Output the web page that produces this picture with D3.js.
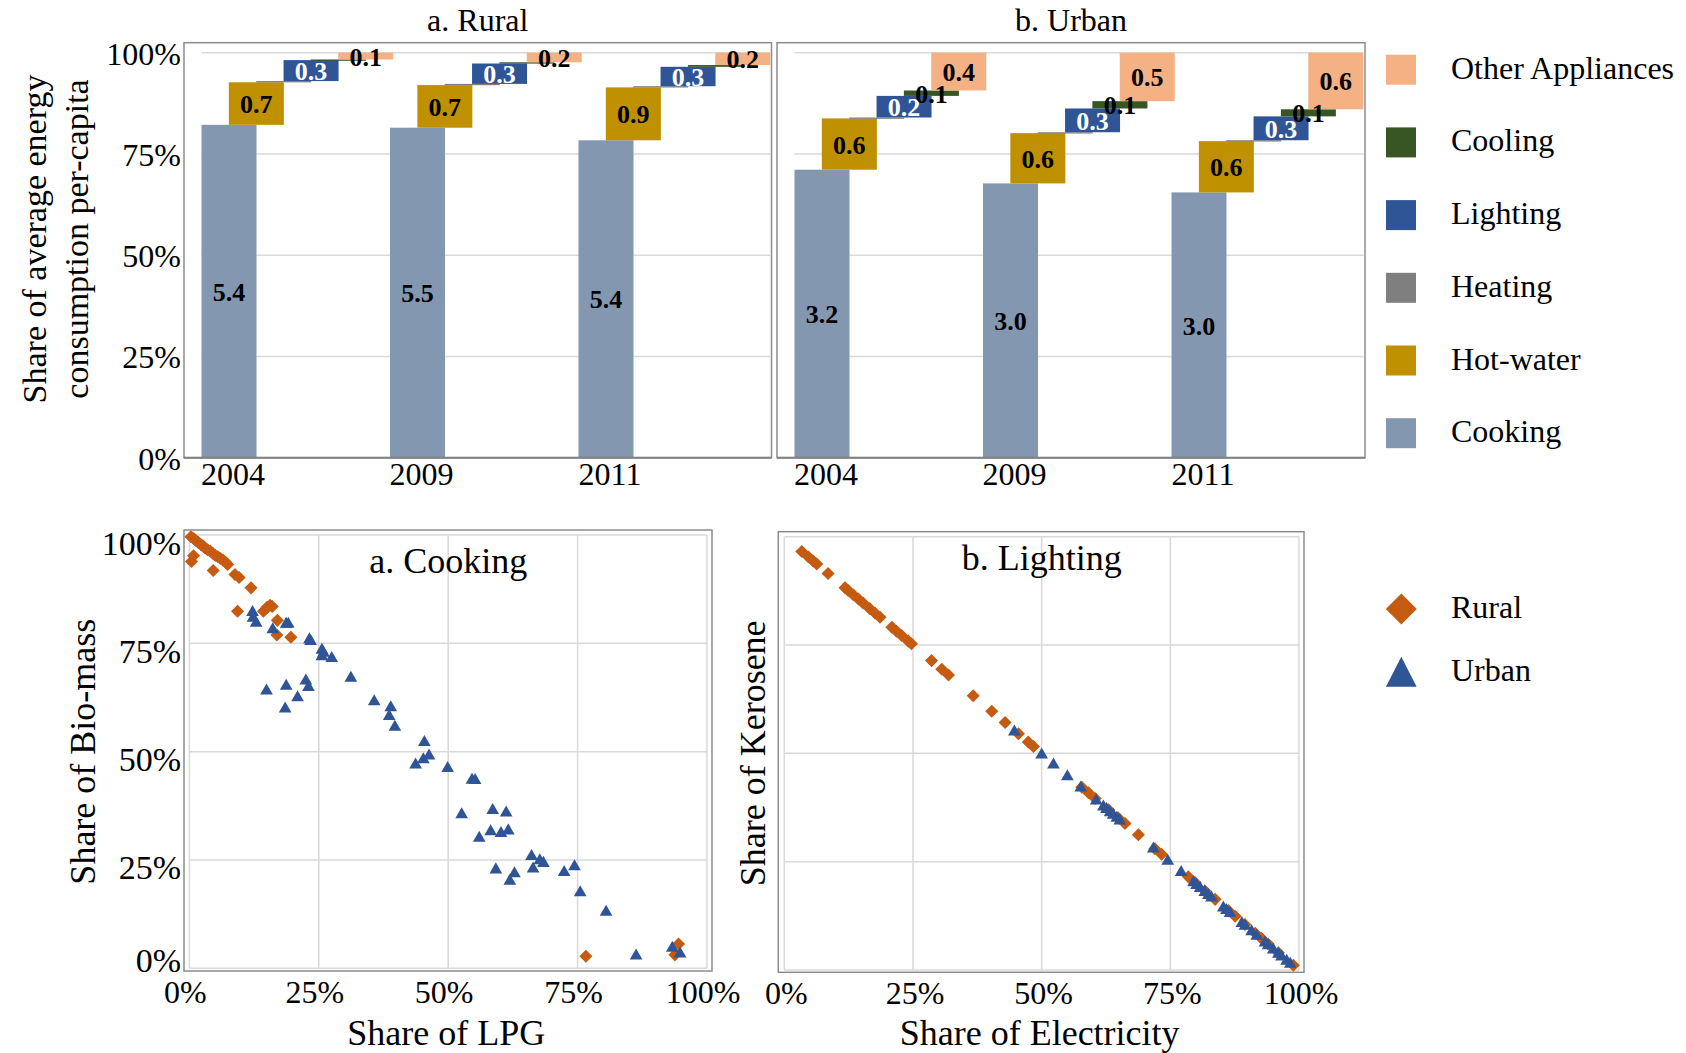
<!DOCTYPE html>
<html><head><meta charset="utf-8">
<script src="https://cdn.jsdelivr.net/npm/d3@7"></script>
<style>
body{margin:0;background:#fff;}
text{font-family:"Liberation Serif","Times New Roman",serif;fill:#000;}
</style></head><body>
<svg id="chart" width="1686" height="1053"></svg>
<script>
// ---------- data: end-use energy per capita ----------
const years = ["2004", "2009", "2011"];
const categories = ["Cooking", "Hot-water", "Heating", "Lighting", "Cooling", "Other Appliances"];
const catColors = ["#8497B0", "#BF9000", "#7F7F7F", "#2F5597", "#375623", "#F4B183"];
const legendOrder = ["Other Appliances", "Cooling", "Lighting", "Heating", "Hot-water", "Cooking"];

const ruralCooking  = [5.40, 5.50, 5.40];
const ruralHotWater = [0.69, 0.71, 0.90];
const ruralHeating  = [0.02, 0.02, 0.02];
const ruralLighting = [0.34, 0.34, 0.33];
const ruralCooling  = [0.01, 0.02, 0.03];
const ruralOther    = [0.11, 0.16, 0.21];

const urbanCooking  = [3.20, 3.00, 3.00];
const urbanHotWater = [0.57, 0.55, 0.58];
const urbanHeating  = [0.01, 0.01, 0.01];
const urbanLighting = [0.24, 0.26, 0.27];
const urbanCooling  = [0.06, 0.08, 0.08];
const urbanOther    = [0.42, 0.53, 0.64];

const shareTicks = [0, 0.25, 0.5, 0.75, 1];
const pctTicks = [0, 25, 50, 75, 100];

// ---------- data: fuel shares (%) ----------
const cookRuralLPG = [0.3,0.8,1.2,1.7,2.2,2.6,3.0,3.5,4.0,4.5,5.0,5.5,6.0,6.5,7.0,7.4,0.4,0.8,4.6,8.8,9.6,11.9,9.3,14.3,15.0,15.6,16.0,17.0,16.9,19.6,76.6,94.5,93.8];
const cookRuralBio = [99.6,99.2,98.8,98.3,97.8,97.5,97.0,96.6,96.3,95.8,95.3,95.0,94.6,94.2,93.7,93.2,93.9,95.2,91.8,90.9,90.2,87.8,82.4,82.4,83.3,83.8,83.5,80.3,76.9,76.4,2.8,5.6,3.1];
const cookUrbanLPG = [12.2,12.3,12.9,16.1,18.7,19.1,23.2,23.4,25.6,25.6,25.9,27.5,31.2,14.9,18.7,20.9,22.5,23.0,18.5,35.7,38.9,38.6,39.7,45.4,43.7,45.2,46.3,49.9,54.6,55.2,52.6,58.6,61.2,58.2,60.2,61.6,56.0,66.1,67.7,68.4,66.4,74.4,72.4,59.2,62.8,61.9,75.5,80.5,86.3,93.3,94.8];
const cookUrbanBio = [82.5,81.2,80.0,78.5,79.8,79.8,76.2,75.8,73.8,72.3,73.1,71.9,67.3,64.4,65.5,62.8,66.7,65.2,60.2,61.9,60.5,58.5,56.0,52.5,47.3,48.5,49.4,46.5,43.8,43.7,35.8,36.8,36.2,31.9,31.5,32.1,30.4,26.2,25.2,24.6,23.3,23.8,22.5,23.1,22.2,20.5,17.8,13.3,3.2,5.0,3.7];

const lightRuralElec = [3.4,4.7,5.6,6.3,8.5,11.8,12.4,13.4,14.4,15.3,16.6,17.6,18.6,20.9,21.8,22.8,24.1,24.7,28.6,30.6,31.9,36.7,40.3,42.9,45.5,47.4,48.4,57.8,59.1,60.4,63.0,64.9,66.2,68.8,72.0,73.3,78.5,79.8,81.7,83.7,86.3,87.6,89.5,91.5,92.7,94.0,96.0,98.9];
const lightRuralKero = [96.6,95.3,94.4,93.7,91.5,88.2,87.6,86.6,85.6,84.7,83.4,82.4,81.4,79.1,78.2,77.2,75.9,75.3,71.4,69.4,68.1,63.3,59.7,57.1,54.5,52.6,51.6,42.2,40.9,39.6,37.0,35.1,33.8,31.2,28.0,26.7,21.5,20.2,18.3,16.3,13.7,12.4,10.5,8.5,7.3,6.0,4.0,1.1];
const lightUrbanElec = [44.7,50.0,52.3,55.0,57.6,60.6,62.0,62.6,63.3,63.9,64.6,65.2,71.7,74.5,77.1,79.5,80.1,80.8,81.7,82.4,83.0,85.3,85.9,86.6,88.9,89.5,90.8,91.8,93.4,94.0,95.0,96.0,96.6,97.6,98.3];
const lightUrbanKero = [55.3,50.0,47.7,45.0,42.4,39.4,38.0,37.4,36.7,36.1,35.4,34.8,28.3,25.5,22.9,20.5,19.9,19.2,18.3,17.6,17.0,14.7,14.1,13.4,11.1,10.5,9.2,8.2,6.6,6.0,5.0,4.0,3.4,2.4,1.7];

const groupNames = ["Rural", "Urban"];
const groupColors = ["#C55A11", "#2F5597"];

// ---------- drawing ----------
const svg = d3.select("#chart");
const colorOf = d3.scaleOrdinal().domain(categories).range(catColors);
const fmt = d3.format(".1f");
const pctFmt = d => d + "%";
const pctShare = d3.format(".0%");

// --- top: stacked waterfall panels ---
const topY = d3.scaleLinear().domain([0, 1]).range([457.7, 52.7]);
const barW = 55, halfStep = 27.35;

const panels = [
  {title: "a. Rural", left: 184, right: 771.5, showY: true,
   series: [ruralCooking, ruralHotWater, ruralHeating, ruralLighting, ruralCooling, ruralOther]},
  {title: "b. Urban", left: 777, right: 1365, showY: false,
   series: [urbanCooking, urbanHotWater, urbanHeating, urbanLighting, urbanCooling, urbanOther]}
];

panels.forEach(p => {
  const g = svg.append("g");
  const x0 = p.left + 17.5;
  const xYear = d3.scaleBand().domain(years).range([x0, x0 + 3 * 188.5]);
  const rows = years.map((yr, i) => {
    const r = {year: yr};
    categories.forEach((c, j) => r[c] = p.series[j][i]);
    return r;
  });
  const stacked = d3.stack().keys(categories).offset(d3.stackOffsetExpand)(rows);

  // grid
  g.selectAll("line.grid").data(shareTicks.slice(1)).join("line")
    .attr("x1", x0).attr("x2", p.right - 1.5)
    .attr("y1", d => topY(d)).attr("y2", d => topY(d))
    .attr("stroke", "#d9d9d9").attr("stroke-width", 1.5);

  // bars
  stacked.forEach((layer, j) => {
    g.selectAll(null).data(layer).join("rect")
      .attr("x", d => xYear(d.data.year) + j * halfStep)
      .attr("width", barW)
      .attr("y", d => topY(d[1]))
      .attr("height", d => Math.max(1.3, topY(d[0]) - topY(d[1])))
      .attr("fill", colorOf(layer.key));
  });

  // labels
  stacked.forEach((layer, j) => {
    if (layer.key === "Heating") return;
    g.selectAll(null).data(layer.filter(d => d.data[layer.key] >= 0.05)).join("text")
      .attr("x", d => xYear(d.data.year) + j * halfStep + barW / 2)
      .attr("y", d => (topY(d[0]) + topY(d[1])) / 2 + 1)
      .attr("text-anchor", "middle").attr("dominant-baseline", "central")
      .style("font-size", "26px").style("font-weight", "bold")
      .style("fill", layer.key === "Lighting" ? "#fff" : "#000")
      .text(d => fmt(d.data[layer.key]));
  });

  // frame
  g.append("rect").attr("x", p.left).attr("y", 42.7)
    .attr("width", p.right - p.left).attr("height", topY(0) - 42.7)
    .attr("fill", "none").attr("stroke", "#8c8c8c").attr("stroke-width", 1.5);
  g.append("line").attr("x1", p.left).attr("x2", p.right)
    .attr("y1", topY(0)).attr("y2", topY(0))
    .attr("stroke", "#808080").attr("stroke-width", 2);

  // x tick labels
  g.selectAll("text.xt").data(years).join("text")
    .attr("x", d => xYear(d) + barW / 2 + 4).attr("y", 485)
    .attr("text-anchor", "middle").style("font-size", "32px").text(d => d);

  // y tick labels
  if (p.showY) {
    g.selectAll("text.yt").data(shareTicks).join("text")
      .attr("x", 181).attr("y", d => topY(d) + 1)
      .attr("text-anchor", "end").attr("dominant-baseline", "central")
      .style("font-size", "32px").text(d => pctShare(d));
  }

  // title
  g.append("text").attr("x", (p.left + p.right) / 2).attr("y", 31)
    .attr("text-anchor", "middle").style("font-size", "32px").text(p.title);
});

// top y axis title
svg.append("text").attr("transform", "translate(46,239) rotate(-90)")
  .attr("text-anchor", "middle").style("font-size", "34px").text("Share of average energy");
svg.append("text").attr("transform", "translate(88,239) rotate(-90)")
  .attr("text-anchor", "middle").style("font-size", "34px").text("consumption per-capita");

// top legend
const leg = svg.append("g");
legendOrder.forEach((c, i) => {
  const cy = 69.7 + i * 72.7;
  leg.append("rect").attr("x", 1386).attr("y", cy - 15).attr("width", 30).attr("height", 30)
    .attr("fill", colorOf(c));
  leg.append("text").attr("x", 1451).attr("y", cy + 9).style("font-size", "32px").text(c);
});

// --- bottom: scatter panels ---
const diamond = d3.symbol().type(d3.symbolSquare).size(85);
const triangle = d3.symbol().type(d3.symbolTriangle).size(70);

const scatters = [
  {title: "a. Cooking", left: 184, right: 712, top: 530, bottom: 971,
   xr: [189.4, 707], yr: [968.3, 535], titleY: 573, showY: true, tickY: 1003, tickShift: -4,
   xTitle: "Share of LPG", yTitle: "Share of Bio-mass", yTitleX: 95,
   rx: cookRuralLPG, ry: cookRuralBio, ux: cookUrbanLPG, uy: cookUrbanBio},
  {title: "b. Lighting", left: 778.3, right: 1304, top: 531.7, bottom: 972.3,
   xr: [784.3, 1299], yr: [970, 536.7], titleY: 570, showY: false, tickY: 1004, tickShift: 2,
   xTitle: "Share of Electricity", yTitle: "Share of Kerosene", yTitleX: 765,
   rx: lightRuralElec, ry: lightRuralKero, ux: lightUrbanElec, uy: lightUrbanKero}
];

scatters.forEach(s => {
  const g = svg.append("g");
  const x = d3.scaleLinear().domain([0, 100]).range(s.xr);
  const y = d3.scaleLinear().domain([0, 100]).range(s.yr);

  g.selectAll("line.hg").data(pctTicks).join("line")
    .attr("x1", s.xr[0]).attr("x2", s.xr[1]).attr("y1", d => y(d)).attr("y2", d => y(d))
    .attr("stroke", "#d9d9d9").attr("stroke-width", 1.5);
  g.selectAll("line.vg").data(pctTicks).join("line")
    .attr("y1", s.yr[0]).attr("y2", s.yr[1]).attr("x1", d => x(d)).attr("x2", d => x(d))
    .attr("stroke", "#d9d9d9").attr("stroke-width", 1.5);
  g.append("rect").attr("x", s.left).attr("y", s.top)
    .attr("width", s.right - s.left).attr("height", s.bottom - s.top)
    .attr("fill", "none").attr("stroke", "#8c8c8c").attr("stroke-width", 1.5);

  const rural = s.rx.map((v, i) => [v, s.ry[i]]);
  const urban = s.ux.map((v, i) => [v, s.uy[i]]);
  g.selectAll("path.r").data(rural).join("path")
    .attr("d", diamond)
    .attr("transform", d => `translate(${x(d[0])},${y(d[1])}) rotate(45)`)
    .attr("fill", groupColors[0]);
  g.selectAll("path.u").data(urban).join("path")
    .attr("d", triangle)
    .attr("transform", d => `translate(${x(d[0])},${y(d[1]) + 1.5})`)
    .attr("fill", groupColors[1]);

  g.append("text").attr("x", (s.xr[0] + s.xr[1]) / 2).attr("y", s.titleY)
    .attr("text-anchor", "middle").style("font-size", "36px").text(s.title);

  g.selectAll("text.xt").data(pctTicks).join("text")
    .attr("x", d => x(d) + s.tickShift).attr("y", s.tickY)
    .attr("text-anchor", "middle").style("font-size", "32px").text(pctFmt);

  if (s.showY) {
    g.selectAll("text.yt").data(pctTicks).join("text")
      .attr("x", 181).attr("y", d => y(d) + (d === 0 ? -8 : 8))
      .attr("text-anchor", "end").attr("dominant-baseline", "central")
      .style("font-size", "34px").text(pctFmt);
  }

  g.append("text").attr("x", (s.xr[0] + s.xr[1]) / 2 - 2).attr("y", 1045)
    .attr("text-anchor", "middle").style("font-size", "36px").text(s.xTitle);
  g.append("text").attr("transform", `translate(${s.yTitleX},${(s.yr[0] + s.yr[1]) / 2}) rotate(-90)`)
    .attr("text-anchor", "middle").style("font-size", "36px").text(s.yTitle);
});

// scatter legend
const leg2 = svg.append("g");
leg2.append("path").attr("d", d3.symbol().type(d3.symbolSquare).size(480))
  .attr("transform", "translate(1401.3,609) rotate(45)").attr("fill", groupColors[0]);
leg2.append("path").attr("d", d3.symbol().type(d3.symbolTriangle).size(408))
  .attr("transform", "translate(1401.3,676.7) scale(1,1.13)").attr("fill", groupColors[1]);
groupNames.forEach((n, i) => {
  leg2.append("text").attr("x", 1451).attr("y", [618.3, 680.7][i])
    .style("font-size", "32px").text(n);
});
</script>
</body></html>
